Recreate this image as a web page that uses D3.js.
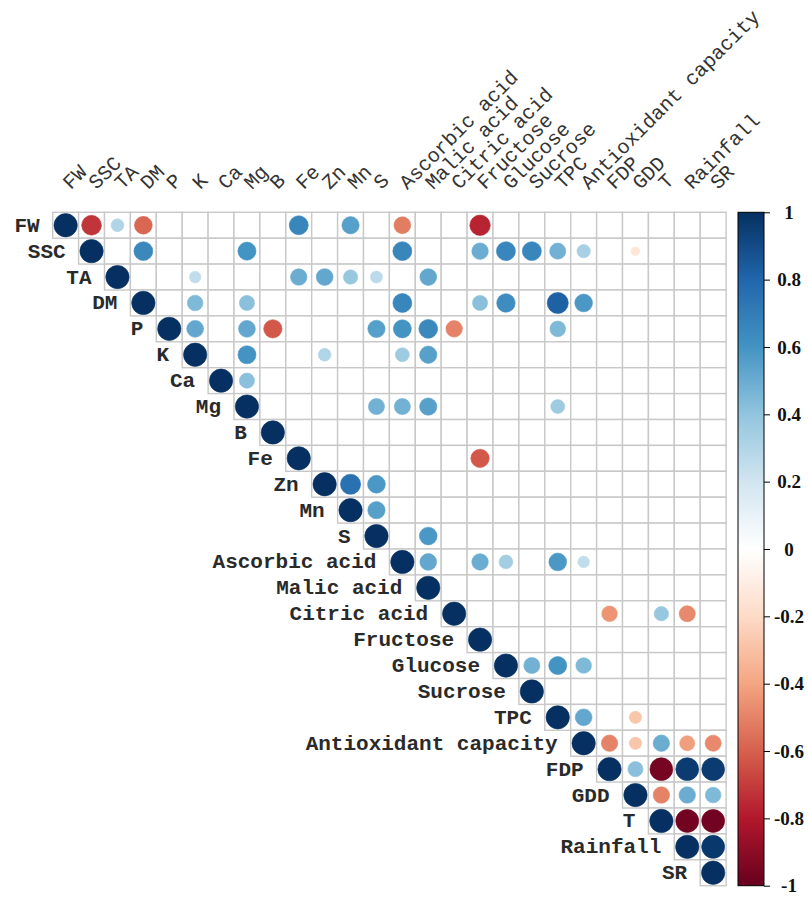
<!DOCTYPE html>
<html>
<head>
<meta charset="utf-8">
<script src="https://cdn.jsdelivr.net/npm/d3@7"></script>
<style>
  html, body { margin: 0; padding: 0; background: #ffffff; }
  svg { display: block; }
</style>
</head>
<body>
<div id="chart"></div>
<script>
// ---------------- DATA ----------------
const variables = ["FW","SSC","TA","DM","P","K","Ca","Mg","B","Fe","Zn","Mn","S",
  "Ascorbic acid","Malic acid","Citric acid","Fructose","Glucose","Sucrose","TPC",
  "Antioxidant capacity","FDP","GDD","T","Rainfall","SR"];

// off-diagonal correlations shown (row variable, column variable, r)
const correlations = [
  ["FW","SSC",-0.72],["FW","TA",0.30],["FW","DM",-0.58],["FW","Fe",0.66],["FW","Mn",0.55],
  ["FW","Ascorbic acid",-0.52],["FW","Fructose",-0.77],
  ["SSC","DM",0.65],["SSC","Mg",0.60],["SSC","Ascorbic acid",0.66],["SSC","Fructose",0.50],
  ["SSC","Glucose",0.66],["SSC","Sucrose",0.66],["SSC","TPC",0.48],["SSC","Antioxidant capacity",0.33],
  ["SSC","GDD",-0.14],
  ["TA","K",0.25],["TA","Fe",0.50],["TA","Zn",0.52],["TA","Mn",0.38],["TA","S",0.27],["TA","Malic acid",0.52],
  ["DM","K",0.45],["DM","Mg",0.42],["DM","Ascorbic acid",0.66],["DM","Fructose",0.42],
  ["DM","Glucose",0.63],["DM","TPC",0.82],["DM","Antioxidant capacity",0.58],
  ["P","K",0.52],["P","Mg",0.52],["P","B",-0.62],["P","S",0.55],["P","Ascorbic acid",0.60],
  ["P","Malic acid",0.65],["P","Citric acid",-0.50],["P","TPC",0.45],
  ["K","Mg",0.60],["K","Zn",0.30],["K","Ascorbic acid",0.36],["K","Malic acid",0.55],
  ["Ca","Mg",0.42],
  ["Mg","S",0.48],["Mg","Ascorbic acid",0.48],["Mg","Malic acid",0.55],["Mg","TPC",0.36],
  ["Fe","Fructose",-0.62],
  ["Zn","Mn",0.75],["Zn","S",0.58],
  ["Mn","S",0.55],
  ["S","Malic acid",0.58],
  ["Ascorbic acid","Malic acid",0.52],["Ascorbic acid","Fructose",0.50],["Ascorbic acid","Glucose",0.35],
  ["Ascorbic acid","TPC",0.58],["Ascorbic acid","Antioxidant capacity",0.25],
  ["Citric acid","FDP",-0.45],["Citric acid","T",0.38],["Citric acid","Rainfall",-0.48],
  ["Glucose","Sucrose",0.48],["Glucose","TPC",0.60],["Glucose","Antioxidant capacity",0.45],
  ["TPC","Antioxidant capacity",0.52],["TPC","GDD",-0.28],
  ["Antioxidant capacity","FDP",-0.50],["Antioxidant capacity","GDD",-0.28],["Antioxidant capacity","T",0.50],
  ["Antioxidant capacity","Rainfall",-0.42],["Antioxidant capacity","SR",-0.48],
  ["FDP","GDD",0.42],["FDP","T",-0.96],["FDP","Rainfall",0.96],["FDP","SR",0.96],
  ["GDD","T",-0.50],["GDD","Rainfall",0.50],["GDD","SR",0.45],
  ["T","Rainfall",-0.97],["T","SR",-0.97],
  ["Rainfall","SR",0.97]
];

const legendTicks = [1,0.8,0.6,0.4,0.2,0,-0.2,-0.4,-0.6,-0.8,-1];
const legendLabels = ["1","0.8","0.6","0.4","0.2","0","-0.2","-0.4","-0.6","-0.8","-1"];

// RdBu palette (from r = -1 to r = 1)
const palette = ["#67001F","#B2182B","#D6604D","#F4A582","#FDDBC7","#FFFFFF",
                 "#D1E5F0","#92C5DE","#4393C3","#2166AC","#053061"];

// ---------------- CHART ----------------
const W = 808, H = 897;
const gridLeft = 52.7, gridTop = 212.3, gridSize = 673.4;

const svg = d3.select("#chart").append("svg")
  .attr("width", W).attr("height", H)
  .style("font-family", "'Liberation Mono', 'Courier New', monospace");

const x = d3.scaleBand().domain(variables).range([gridLeft, gridLeft + gridSize]).padding(0);
const y = d3.scaleBand().domain(variables).range([gridTop, gridTop + gridSize]).padding(0);
const bw = x.bandwidth();

const color = d3.scaleLinear()
  .domain(d3.range(palette.length).map(i => -1 + 2 * i / (palette.length - 1)))
  .range(palette)
  .interpolate(d3.interpolateRgb);
const radius = d3.scaleSqrt().domain([0, 1]).range([0, 0.45 * bw]);

// cells (upper triangle incl. diagonal)
const cells = [];
variables.forEach((rv, i) => variables.forEach((cv, j) => { if (j >= i) cells.push([rv, cv]); }));

svg.append("g").selectAll("rect").data(cells).join("rect")
  .attr("x", d => x(d[1])).attr("y", d => y(d[0]))
  .attr("width", bw).attr("height", bw)
  .attr("fill", "#ffffff")
  .attr("stroke", "#c8c8c8").attr("stroke-width", 1.4);

// circles: diagonal (r = 1) + off-diagonal
const points = variables.map(v => [v, v, 1]).concat(correlations);
svg.append("g").selectAll("circle").data(points).join("circle")
  .attr("cx", d => x(d[1]) + bw / 2)
  .attr("cy", d => y(d[0]) + bw / 2)
  .attr("r", d => radius(Math.abs(d[2])))
  .attr("fill", d => color(d[2]))
  .attr("stroke", d => color(d[2]))
  .attr("stroke-width", 0.6);

// row labels
svg.append("g").selectAll("text").data(variables).join("text")
  .attr("x", d => x(d) - 13)
  .attr("y", d => y(d) + bw / 2 + 6.5)
  .attr("text-anchor", "end")
  .attr("font-size", 21)
  .attr("font-weight", "bold")
  .attr("fill", "#2a2a2a")
  .text(d => d);

// column labels (rotated 45°)
svg.append("g").selectAll("text").data(variables).join("text")
  .attr("transform", d => `translate(${x(d) + bw / 2 + 5},${gridTop - 22}) rotate(-45)`)
  .attr("text-anchor", "start")
  .attr("font-size", 20.3)
  .attr("fill", "#333")
  .text(d => d);

// colour legend
const barX = 738, barW = 26;
const ly = d3.scaleLinear().domain([-1, 1]).range([gridTop + gridSize, gridTop]);

const defs = svg.append("defs");
const grad = defs.append("linearGradient").attr("id", "cbar")
  .attr("x1", 0).attr("y1", 1).attr("x2", 0).attr("y2", 0);
d3.range(0, 1.0001, 0.02).forEach(t => {
  grad.append("stop").attr("offset", t).attr("stop-color", color(-1 + 2 * t));
});
svg.append("rect")
  .attr("x", barX).attr("y", gridTop)
  .attr("width", barW).attr("height", gridSize)
  .attr("fill", "url(#cbar)")
  .attr("stroke", "#000").attr("stroke-width", 1);

const axis = d3.axisRight(ly).tickValues(legendTicks)
  .tickFormat((d, i) => legendLabels[i]).tickSize(6).tickPadding(0);
const ag = svg.append("g").attr("transform", `translate(${barX + barW},0)`).call(axis);
ag.select(".domain").remove();
ag.selectAll(".tick line").attr("stroke", "#000");
ag.selectAll(".tick text")
  .attr("x", 25)
  .attr("text-anchor", "middle")
  .attr("font-family", "'Liberation Serif', 'Times New Roman', serif")
  .attr("font-size", 19)
  .attr("font-weight", "bold")
  .attr("fill", "#111");
</script>
</body>
</html>
